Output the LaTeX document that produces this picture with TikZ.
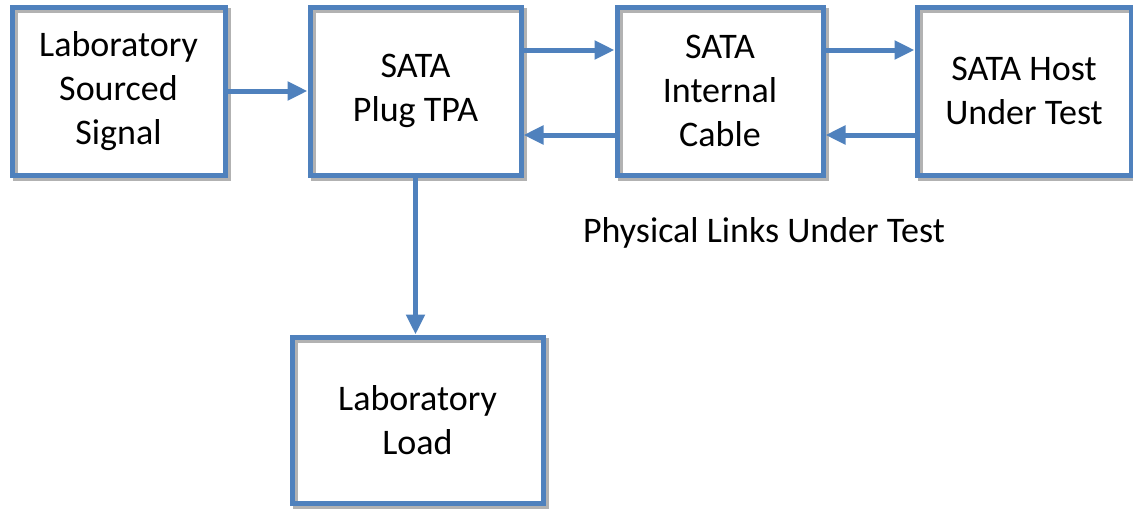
\documentclass[tikz,border=0pt]{standalone}
\usepackage{fontspec}
\setmainfont{Carlito}
\usetikzlibrary{arrows.meta,shadows}
\definecolor{linkblue}{HTML}{4F81BD}

\begin{document}
\begin{tikzpicture}[x=1pt,y=-1pt,line width=5pt]
	% `block' is used for every box, `link' for the connectors.
	% `outline shadow' is the grey copy of the border, shifted down right.
	\tikzstyle{outline shadow} = [general shadow={shadow xshift=3pt,shadow yshift=-3pt,draw=black!30,line width=5pt}]
	\tikzstyle{block} = [draw=linkblue,outline shadow,align=center,inner sep=0pt,
		font=\fontsize{36}{44}\selectfont]
	\tikzstyle{link} = [draw=linkblue,-{Triangle[length=20pt,width=18pt]}]
	\tikzstyle{caption} = [font=\fontsize{36}{44}\selectfont]
	%
	\useasboundingbox (0,0) rectangle (1133,509);
	% Top row.
	\node[block,minimum width=213pt,minimum height=168pt] (source) at (118.5,91) {Laboratory\\Sourced\\Signal};
	\node[block,minimum width=211pt,minimum height=168pt] (tpa) at (415.5,91) {SATA\\Plug TPA};
	\node[block,minimum width=206pt,minimum height=168pt] (cable) at (720,91) {SATA\\Internal\\Cable};
	\node[block,minimum width=214pt,minimum height=168pt] (host) at (1024,91) {SATA Host\\Under Test};
	% Bottom box.
	\node[block,minimum width=251pt,minimum height=166pt] (load) at (417.5,420) {Laboratory\\Load};
	\node[caption] (links) at (764,233) {Physical Links Under Test};
	% Draw connectors.
	\draw[link] (source.east) -- (tpa.west);
	\draw[link] ([yshift=41pt]tpa.east) -- ([yshift=41pt]cable.west);
	\draw[link] ([yshift=-44pt]cable.west) -- ([yshift=-44pt]tpa.east);
	\draw[link] ([yshift=41pt]cable.east) -- ([yshift=41pt]host.west);
	\draw[link] ([yshift=-44pt]host.west) -- ([yshift=-44pt]cable.east);
	\draw[link] (tpa.south) -- (tpa.south |- load.north);
%
\end{tikzpicture}
\end{document}
